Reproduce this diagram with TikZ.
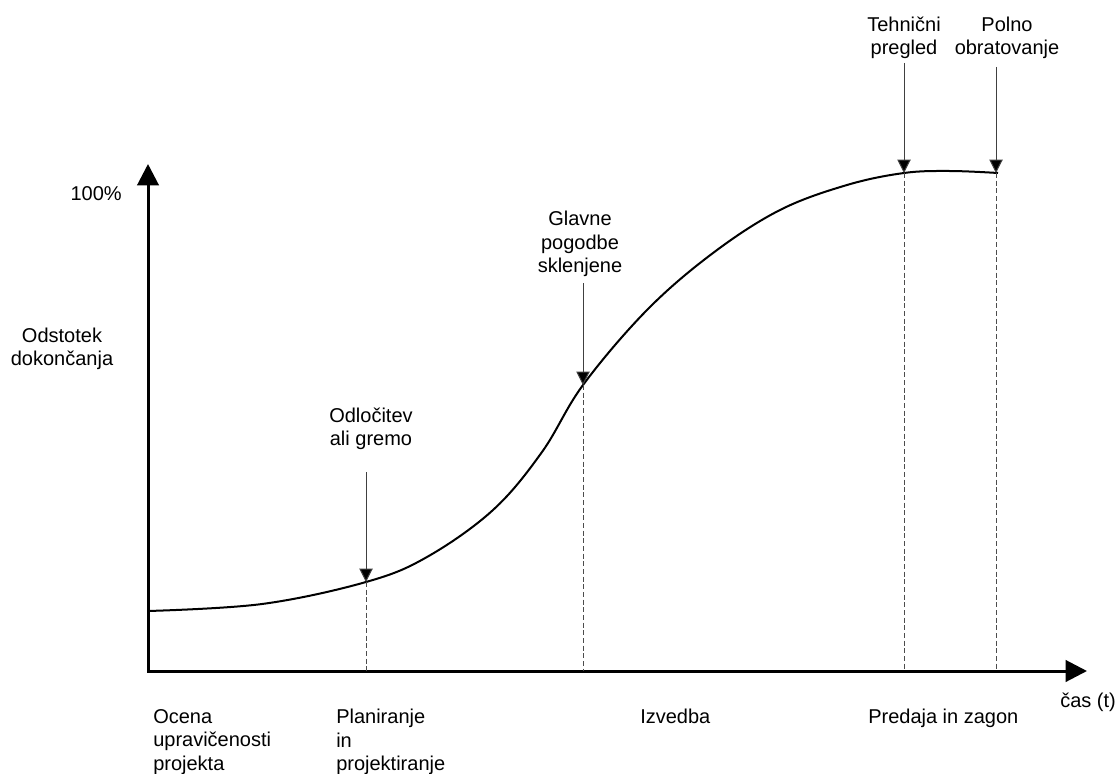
\documentclass[tikz,border=0pt]{standalone}
\usepackage{fontspec}
\setmainfont{Liberation Sans}
\usetikzlibrary{arrows.meta}
\begin{document}
\begin{tikzpicture}[x=0.75pt,y=-0.75pt,
  lbl/.style={inner sep=0pt,font=\fontsize{15}{17.5}\selectfont},
  axisline/.style={line width=2.25pt,{Triangle[width=16pt,length=16pt]}-{Triangle[width=16pt,length=16pt]}},
  curveline/.style={line width=1.5pt},
  marker/.style={line width=0.75pt,draw=black!75,-{Triangle[width=10pt,length=10pt,fill=black]}},
  guide/.style={line width=0.75pt,draw=black!70,dash pattern=on 3.75pt off 2pt}]
\path[use as bounding box] (0,0) rectangle (1117,774);

% axes
\coordinate (O) at (148,671);
\coordinate (ytip) at (148,164);
\coordinate (xtip) at (1087,671);
\draw[axisline] (ytip) -- (O) -- (xtip);

% completion curve
\draw[curveline] plot[smooth,tension=0.6] coordinates {
  (148,611) (262,604) (366,582) (427,557) (493,510) (542,452)
  (583,385) (647,310) (713,253) (780,210) (847,185) (904,173) (950,171)
  (998,173)};

% milestone points on the curve and their feet on the time axis
\coordinate (m1) at (366,582);  \coordinate (f1) at (366,671);
\coordinate (m2) at (583,385);  \coordinate (f2) at (583,671);
\coordinate (m3) at (904,173);  \coordinate (f3) at (904,671);
\coordinate (m4) at (996,173);  \coordinate (f4) at (996,671);
\coordinate (s1) at (366,472);
\coordinate (s2) at (583,283);
\coordinate (s3) at (904,63);
\coordinate (s4) at (996,67);

\draw[guide] (m1) -- (f1);
\draw[guide] (m2) -- (f2);
\draw[guide] (m3) -- (f3);
\draw[guide] (m4) -- (f4);

\draw[marker] (s1) -- (m1);
\draw[marker] (s2) -- (m2);
\draw[marker] (s3) -- (m3);
\draw[marker] (s4) -- (m4);

% axis labels
\node[lbl,anchor=east] (top) at (122,194) {100\%};
\node[lbl,align=center] (yl) at (62,349) {Odstotek\\dokončanja};
\node[lbl,anchor=west] (xl) at (1060,702) {čas (t)};

% milestone labels
\node[lbl,align=center] (l1) at (371,429) {Odločitev\\ali gremo};
\node[lbl,align=center] (l2) at (580,244) {Glavne\\pogodbe\\sklenjene};
\node[lbl,align=center] (l3) at (904,38) {Tehnični\\pregled};
\node[lbl,align=center] (l4) at (1007,38) {Polno\\obratovanje};

% phase labels
\node[lbl,align=left,anchor=west] (p1) at (153,742) {Ocena\\upravičenosti\\projekta};
\node[lbl,align=left,anchor=west] (p2) at (336,742) {Planiranje\\in\\projektiranje};
\node[lbl,anchor=west] (p3) at (640,716) {Izvedba};
\node[lbl,anchor=west] (p4) at (868,718) {Predaja in zagon};
\end{tikzpicture}
\end{document}
